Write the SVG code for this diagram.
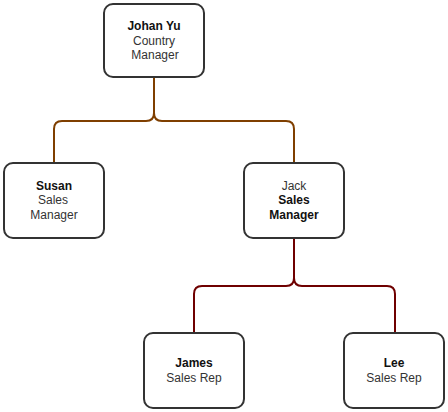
<svg xmlns="http://www.w3.org/2000/svg" width="448" height="412" viewBox="0 0 448 412">
<style>
.box{fill:#fff;stroke:#333;stroke-width:2}
.t{font-family:"Liberation Sans",Arial,sans-serif;font-size:12px;fill:#333;text-anchor:middle}
.b{font-weight:bold;fill:#111}
.c1{fill:none;stroke:#7f3f00;stroke-width:2}
.c2{fill:none;stroke:#6f0000;stroke-width:2}
</style>
<rect width="448" height="412" fill="#fff"/>
<g id="connectors">
<path class="c1" d="M154 78 V113 Q154 121 146 121 H62 Q54 121 54 129 V163"/>
<path class="c1" d="M154 78 V113 Q154 121 162 121 H286 Q294 121 294 129 V163"/>
<path class="c2" d="M294 238 V278 Q294 286 286 286 H202 Q194 286 194 294 V333"/>
<path class="c2" d="M294 238 V278 Q294 286 302 286 H387 Q395 286 395 294 V333"/>
</g>
<g id="johan">
<rect class="box" x="104" y="4" width="100" height="73" rx="9"/>
<text class="t b" x="154" y="30">Johan Yu</text>
<text class="t" x="154" y="45">Country</text>
<text class="t" x="155" y="59">Manager</text>
</g>
<g id="susan">
<rect class="box" x="4" y="163" width="100" height="75" rx="9"/>
<text class="t b" x="54" y="190">Susan</text>
<text class="t" x="53" y="204">Sales</text>
<text class="t" x="54" y="219">Manager</text>
</g>
<g id="jack">
<rect class="box" x="244" y="163" width="100" height="75" rx="9"/>
<text class="t" x="294" y="190">Jack</text>
<text class="t b" x="294" y="204">Sales</text>
<text class="t b" x="294" y="219">Manager</text>
</g>
<g id="james">
<rect class="box" x="144" y="333" width="100" height="75" rx="9"/>
<text class="t b" x="194" y="367">James</text>
<text class="t" x="194" y="382">Sales Rep</text>
</g>
<g id="lee">
<rect class="box" x="344" y="333" width="100" height="75" rx="9"/>
<text class="t b" x="394" y="367">Lee</text>
<text class="t" x="394" y="382">Sales Rep</text>
</g>
</svg>
